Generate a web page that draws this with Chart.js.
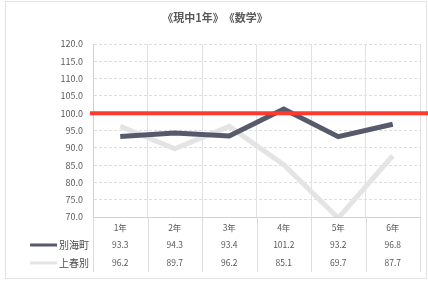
<!DOCTYPE html>
<html>
<head>
<meta charset="utf-8">
<script src="https://cdn.jsdelivr.net/npm/chart.js@4"></script>
<style>
  html, body { margin: 0; padding: 0; background: #fff; }
  #wrap { width: 428px; height: 281px; }
</style>
</head>
<body>
<div id="wrap"><canvas id="chart" width="428" height="281"></canvas></div>
<script>
// data
const grades = ['1年', '2年', '3年', '4年', '5年', '6年'];
const betsukai = [93.3, 94.3, 93.4, 101.2, 93.2, 96.8];
const kamishunbetsu = [96.2, 89.7, 96.2, 85.1, 69.7, 87.7];
const seriesNames = ['別海町', '上春別'];
const targetValue = 100;
const chartTitle = '《現中1年》　《数学》';

const FONT = "'Noto Sans CJK JP', 'Noto Sans', sans-serif";
const TEXT = '#595959';
const DARK = '#565a6c';
const LIGHT = '#e4e4e4';

// title, reference line, data table below the plot
const extras = {
    id: 'extras',
    beforeDraw(chart) {
        const { ctx } = chart;
        ctx.save();
        ctx.strokeStyle = '#e2e2e2';
        ctx.lineWidth = 1;
        ctx.strokeRect(5.5, 1.5, 421, 277);
        ctx.restore();
    },
    afterDatasetsDraw(chart) {
        const { ctx, chartArea: area, scales: { x, y } } = chart;
        ctx.save();

        // red 100 line
        const yy = y.getPixelForValue(targetValue);
        ctx.strokeStyle = '#ff3b2f';
        ctx.lineWidth = 4;
        ctx.beginPath();
        ctx.moveTo(90, yy);
        ctx.lineTo(428, yy);
        ctx.stroke();

        // title
        ctx.fillStyle = TEXT;
        ctx.font = `bold 11px ${FONT}`;
        ctx.textAlign = 'center';
        ctx.textBaseline = 'middle';
        ctx.fillText(chartTitle, 215, 18);

        // table grid
        const step = x.getPixelForValue(1) - x.getPixelForValue(0);
        ctx.strokeStyle = '#dcdcdc';
        ctx.lineWidth = 1;
        for (let i = 0; i <= grades.length; i++) {
            const px = Math.round(x.getPixelForValue(0) - step / 2 + i * step) + 0.5;
            ctx.beginPath();
            ctx.moveTo(px, area.bottom);
            ctx.lineTo(px, 272);
            ctx.stroke();
        }

        // table text
        const rows = [228, 245, 263];
        ctx.font = `8.5px ${FONT}`;
        grades.forEach((g, i) => {
            const px = x.getPixelForValue(i);
            ctx.fillStyle = TEXT;
            ctx.fillText(g, px, rows[0]);
            ctx.fillText(betsukai[i].toFixed(1), px, rows[1]);
            ctx.fillText(kamishunbetsu[i].toFixed(1), px, rows[2]);
        });

        // legend keys
        [DARK, LIGHT].forEach((c, i) => {
            ctx.strokeStyle = c;
            ctx.lineWidth = 3;
            ctx.beginPath();
            ctx.moveTo(30, rows[i + 1]);
            ctx.lineTo(57, rows[i + 1]);
            ctx.stroke();
            ctx.fillStyle = '#4a4a4a';
            ctx.font = `10px ${FONT}`;
            ctx.textAlign = 'left';
            ctx.fillText(seriesNames[i], 59, rows[i + 1]);
        });
        ctx.restore();
    }
};

new Chart(document.getElementById('chart'), {
    type: 'line',
    data: {
        labels: grades,
        datasets: [
            { label: seriesNames[0], data: betsukai, borderColor: DARK, borderWidth: 5, pointRadius: 0, tension: 0 },
            { label: seriesNames[1], data: kamishunbetsu, borderColor: LIGHT, borderWidth: 5, pointRadius: 0, tension: 0 }
        ]
    },
    options: {
        responsive: false,
        animation: false,
        layout: { padding: { left: 43, right: 8, top: 44, bottom: 64 } },
        plugins: { legend: { display: false }, title: { display: false }, tooltip: { enabled: false } },
        scales: {
            x: {
                offset: true,
                ticks: { display: false },
                grid: { color: '#e2e2e2', drawTicks: false, offset: true },
                border: { color: '#d0d0d0' }
            },
            y: {
                min: 70,
                max: 120,
                afterFit: (s) => { s.width = 50; },
                ticks: {
                    stepSize: 5,
                    padding: 10,
                    color: TEXT,
                    font: { family: FONT, size: 9 },
                    callback: (v) => Number(v).toFixed(1)
                },
                grid: { color: '#dedede', drawTicks: false },
                border: { color: '#d0d0d0', dash: [3, 2] }
            }
        }
    },
    plugins: [extras]
});
</script>
</body>
</html>
